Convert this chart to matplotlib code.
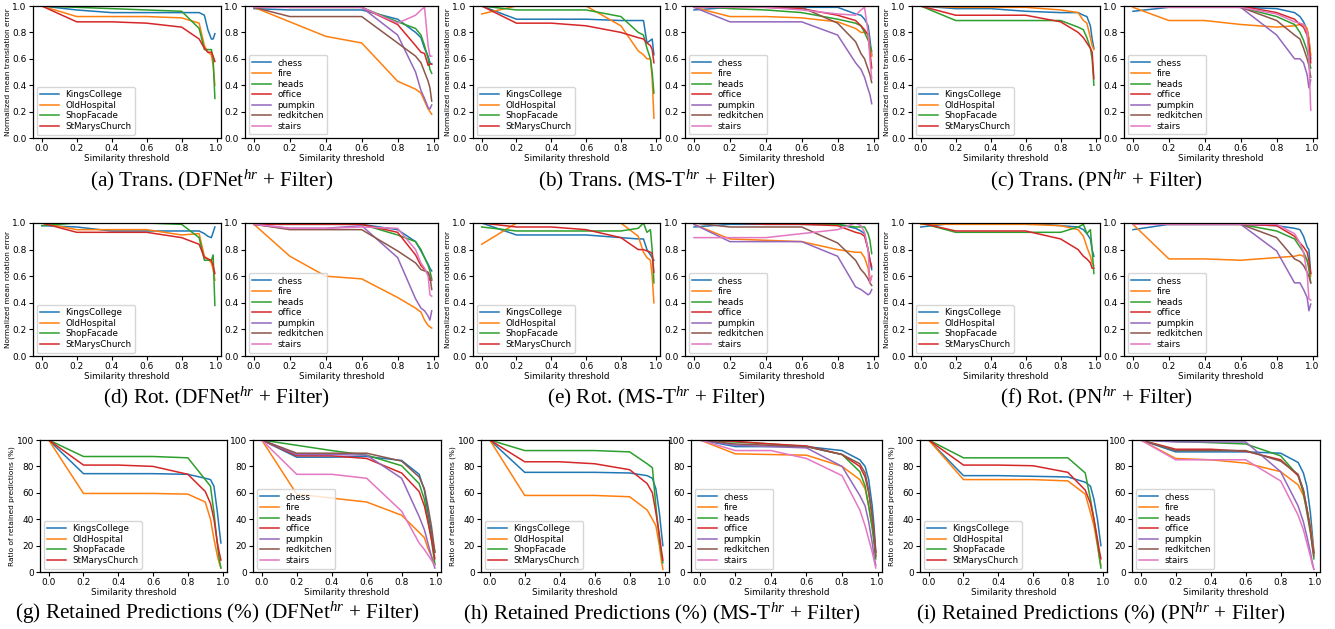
import numpy as np
import matplotlib
matplotlib.use("Agg")
import matplotlib.pyplot as plt

plt.rcParams['mathtext.fontset'] = 'custom'
plt.rcParams['mathtext.rm'] = 'Liberation Serif'
plt.rcParams['mathtext.it'] = 'Liberation Serif:italic'

# similarity thresholds
THR = [0.0, 0.2, 0.4, 0.6, 0.8, 0.9, 0.93, 0.95, 0.97, 0.98, 0.99]

CAMBRIDGE = ["KingsCollege", "OldHospital", "ShopFacade", "StMarysChurch"]
SEVEN = ["chess", "fire", "heads", "office", "pumpkin", "redkitchen", "stairs"]

# ---- translation error (normalized)
dfnet_trans_cam = [
    [1.0, 0.97, 0.95, 0.95, 0.95, 0.95, 0.93, 0.82, 0.75, 0.75, 0.79],
    [1.0, 0.92, 0.92, 0.92, 0.91, 0.87, 0.70, 0.65, 0.63, 0.55, 0.40],
    [1.0, 0.99, 0.98, 0.97, 0.96, 0.83, 0.67, 0.67, 0.67, 0.60, 0.30],
    [1.0, 0.88, 0.88, 0.87, 0.84, 0.75, 0.68, 0.65, 0.65, 0.62, 0.58],
]
dfnet_trans_7s = [
    [0.98, 0.97, 0.97, 0.97, 0.90, 0.80, 0.76, 0.68, 0.62, 0.57, 0.56],
    [0.99, 0.88, 0.77, 0.72, 0.43, 0.37, 0.34, 0.28, 0.22, 0.20, 0.18],
    [1.0, 0.99, 0.99, 0.99, 0.88, 0.83, 0.78, 0.70, 0.60, 0.52, 0.49],
    [1.0, 0.99, 0.99, 0.99, 0.86, 0.70, 0.65, 0.64, 0.55, 0.56, 0.56],
    [0.99, 0.99, 0.99, 0.99, 0.78, 0.50, 0.36, 0.30, 0.23, 0.22, 0.25],
    [0.99, 0.92, 0.92, 0.92, 0.72, 0.62, 0.57, 0.50, 0.43, 0.38, 0.28],
    [0.99, 0.99, 0.99, 0.99, 0.87, 0.93, 0.97, 0.99, 0.70, 0.62, 0.62],
]
mst_trans_cam = [
    [1.0, 0.90, 0.90, 0.90, 0.89, 0.89, 0.89, 0.72, 0.74, 0.75, 0.63],
    [0.94, 1.0, 1.0, 1.0, 0.85, 0.66, 0.63, 0.60, 0.60, 0.45, 0.15],
    [1.0, 0.97, 0.97, 0.97, 0.92, 0.80, 0.78, 0.68, 0.60, 0.50, 0.34],
    [1.0, 0.87, 0.87, 0.85, 0.80, 0.76, 0.75, 0.72, 0.70, 0.67, 0.57],
]
mst_trans_7s = [
    [0.97, 0.99, 0.99, 0.99, 0.99, 0.94, 0.93, 0.90, 0.85, 0.75, 0.63],
    [0.99, 0.92, 0.92, 0.91, 0.88, 0.83, 0.80, 0.80, 0.79, 0.70, 0.62],
    [1.0, 0.98, 0.97, 0.95, 0.90, 0.87, 0.85, 0.80, 0.74, 0.70, 0.66],
    [1.0, 1.0, 0.99, 0.98, 0.93, 0.89, 0.85, 0.82, 0.78, 0.65, 0.53],
    [0.99, 0.88, 0.88, 0.88, 0.78, 0.57, 0.52, 0.46, 0.37, 0.33, 0.26],
    [1.0, 1.0, 1.0, 0.99, 0.87, 0.73, 0.64, 0.60, 0.52, 0.48, 0.42],
    [0.99, 0.99, 0.99, 0.97, 0.94, 0.93, 0.97, 0.99, 0.80, 0.60, 0.45],
]
pn_trans_cam = [
    [1.0, 0.98, 0.98, 0.96, 0.95, 0.95, 0.93, 0.92, 0.85, 0.75, 0.68],
    [1.0, 0.99, 0.99, 0.99, 0.97, 0.95, 0.89, 0.87, 0.76, 0.70, 0.67],
    [1.0, 0.89, 0.89, 0.89, 0.89, 0.84, 0.82, 0.76, 0.68, 0.60, 0.40],
    [1.0, 0.93, 0.93, 0.93, 0.88, 0.80, 0.76, 0.72, 0.68, 0.65, 0.45],
]
pn_trans_7s = [
    [0.96, 0.99, 0.99, 0.99, 0.98, 0.95, 0.92, 0.88, 0.82, 0.75, 0.60],
    [0.99, 0.89, 0.89, 0.86, 0.84, 0.85, 0.86, 0.86, 0.83, 0.75, 0.63],
    [1.0, 1.0, 1.0, 0.99, 0.92, 0.86, 0.80, 0.74, 0.66, 0.60, 0.53],
    [1.0, 1.0, 1.0, 1.0, 0.95, 0.90, 0.86, 0.84, 0.78, 0.70, 0.57],
    [1.0, 1.0, 1.0, 0.99, 0.78, 0.60, 0.60, 0.57, 0.48, 0.38, 0.44],
    [1.0, 1.0, 1.0, 0.99, 0.89, 0.78, 0.75, 0.68, 0.60, 0.55, 0.46],
    [1.0, 0.99, 0.99, 0.99, 0.94, 0.88, 0.87, 0.86, 0.80, 0.60, 0.21],
]

# ---- rotation error (normalized)
dfnet_rot_cam = [
    [0.98, 0.97, 0.94, 0.94, 0.94, 0.94, 0.92, 0.90, 0.89, 0.93, 0.97],
    [1.0, 0.95, 0.95, 0.95, 0.91, 0.92, 0.75, 0.73, 0.70, 0.65, 0.57],
    [0.98, 1.0, 1.0, 1.0, 0.99, 0.89, 0.72, 0.72, 0.72, 0.76, 0.38],
    [1.0, 0.93, 0.93, 0.93, 0.89, 0.84, 0.74, 0.73, 0.72, 0.68, 0.62],
]
dfnet_rot_7s = [
    [0.99, 0.99, 0.99, 0.99, 0.95, 0.86, 0.79, 0.74, 0.69, 0.66, 0.64],
    [0.99, 0.75, 0.60, 0.58, 0.44, 0.36, 0.33, 0.27, 0.23, 0.22, 0.21],
    [1.0, 1.0, 1.0, 0.99, 0.91, 0.86, 0.80, 0.74, 0.68, 0.64, 0.58],
    [0.99, 0.99, 0.99, 0.99, 0.93, 0.76, 0.68, 0.65, 0.62, 0.57, 0.57],
    [0.99, 0.96, 0.96, 0.98, 0.74, 0.43, 0.36, 0.34, 0.30, 0.27, 0.34],
    [0.99, 0.95, 0.95, 0.95, 0.79, 0.70, 0.65, 0.64, 0.63, 0.60, 0.50],
    [0.99, 0.96, 0.96, 0.97, 0.96, 0.80, 0.70, 0.66, 0.60, 0.46, 0.45],
]
mst_rot_cam = [
    [1.0, 0.91, 0.91, 0.91, 0.89, 0.88, 0.88, 0.80, 0.76, 0.74, 0.72],
    [0.84, 1.0, 1.0, 1.0, 1.0, 0.90, 0.78, 0.74, 0.72, 0.60, 0.40],
    [0.97, 0.94, 0.94, 0.94, 0.94, 0.96, 1.0, 0.93, 0.95, 0.80, 0.55],
    [1.0, 0.97, 0.97, 0.95, 0.89, 0.80, 0.80, 0.79, 0.78, 0.77, 0.63],
]
mst_rot_7s = [
    [0.97, 0.99, 0.99, 0.99, 0.99, 0.96, 0.94, 0.92, 0.80, 0.72, 0.65],
    [0.99, 0.88, 0.87, 0.86, 0.80, 0.78, 0.78, 0.74, 0.66, 0.55, 0.60],
    [1.0, 1.0, 1.0, 0.99, 0.99, 0.97, 0.97, 0.97, 0.92, 0.87, 0.77],
    [1.0, 1.0, 0.99, 0.99, 0.98, 0.93, 0.92, 0.90, 0.80, 0.72, 0.67],
    [0.99, 0.86, 0.86, 0.86, 0.75, 0.52, 0.50, 0.48, 0.46, 0.47, 0.50],
    [1.0, 0.97, 0.97, 0.97, 0.85, 0.72, 0.65, 0.62, 0.58, 0.55, 0.53],
    [0.89, 0.89, 0.89, 0.92, 0.95, 1.0, 0.98, 0.93, 0.80, 0.55, 0.60],
]
pn_rot_cam = [
    [0.97, 1.0, 1.0, 1.0, 0.98, 0.97, 0.95, 0.92, 0.88, 0.80, 0.75],
    [0.99, 0.99, 0.99, 0.99, 0.98, 0.95, 0.90, 0.82, 0.75, 0.70, 0.68],
    [1.0, 0.93, 0.93, 0.93, 0.93, 0.97, 0.99, 0.92, 0.95, 0.80, 0.62],
    [1.0, 0.94, 0.94, 0.94, 0.88, 0.80, 0.75, 0.73, 0.70, 0.66, 0.66],
]
pn_rot_7s = [
    [0.95, 0.99, 0.99, 0.99, 0.98, 0.96, 0.95, 0.90, 0.82, 0.80, 0.62],
    [0.99, 0.73, 0.73, 0.72, 0.74, 0.75, 0.76, 0.75, 0.72, 0.68, 0.60],
    [1.0, 0.99, 0.99, 0.99, 0.94, 0.88, 0.82, 0.78, 0.72, 0.65, 0.55],
    [1.0, 0.99, 0.99, 0.99, 0.98, 0.90, 0.85, 0.82, 0.78, 0.72, 0.62],
    [1.0, 0.99, 0.99, 0.99, 0.79, 0.55, 0.55, 0.50, 0.44, 0.34, 0.39],
    [1.0, 0.99, 0.99, 0.99, 0.89, 0.73, 0.71, 0.68, 0.63, 0.60, 0.55],
    [0.99, 0.99, 0.99, 0.99, 0.99, 0.92, 0.85, 0.78, 0.62, 0.43, 0.42],
]

# ---- retained predictions (%)
dfnet_keep_cam = [
    [100, 74.5, 74.5, 74.5, 74, 71, 70, 65, 45, 33, 22],
    [100, 59.5, 59.5, 59.5, 59, 53, 40, 25, 12, 7, 3],
    [100, 87.5, 87.5, 87.5, 86.5, 70, 65, 45, 20, 10, 3],
    [100, 81, 81, 80, 74, 61, 52, 40, 22, 15, 9],
]
dfnet_keep_7s = [
    [100, 87, 87, 87.5, 84.5, 74, 62, 45, 30, 22, 15],
    [100, 59, 56, 53, 43, 30, 26, 18, 12, 9, 6],
    [100, 96, 92, 88.5, 80.5, 67, 55, 40, 25, 15, 6],
    [100, 88, 88, 86, 75, 61, 50, 38, 25, 18, 10],
    [100, 89, 89, 88.5, 71, 42, 32, 22, 12, 7, 3],
    [100, 90, 90, 90, 84, 72, 63, 50, 35, 25, 15],
    [100, 74, 74, 71, 46, 22, 17, 13, 9, 7, 5],
]
mst_keep_cam = [
    [100, 75.5, 75.5, 75.5, 75, 73, 71, 63, 45, 32, 20],
    [100, 58, 58, 58, 57, 47, 40, 35, 20, 10, 2],
    [100, 92, 92, 92, 91, 82, 79, 50, 25, 15, 7],
    [100, 83.5, 83.5, 82, 77.5, 67, 60, 45, 28, 18, 9],
]
mst_keep_7s = [
    [100, 95, 95, 95, 92, 85, 80, 70, 50, 35, 15],
    [100, 89.5, 89, 88.5, 80, 70, 63, 50, 35, 25, 12],
    [100, 98.5, 97, 95, 89, 76, 65, 50, 33, 22, 10],
    [100, 99, 97, 95.5, 89, 80, 72, 60, 42, 30, 15],
    [100, 96, 95, 94, 80, 58, 50, 38, 22, 12, 5],
    [100, 97, 96, 95, 89, 82, 75, 62, 42, 28, 12],
    [100, 92, 92, 86, 73, 47, 35, 25, 15, 9, 3],
]
pn_keep_cam = [
    [100, 73, 73, 72.5, 72, 68, 65, 55, 40, 30, 20],
    [100, 70, 70, 70, 69, 59, 45, 35, 20, 12, 5],
    [100, 86.5, 86.5, 86.5, 86.5, 75, 55, 40, 22, 12, 3],
    [100, 81, 81, 80.5, 75.5, 62, 52, 40, 25, 17, 10],
]
pn_keep_7s = [
    [100, 91, 91, 91, 90, 83, 75, 65, 45, 30, 15],
    [100, 86, 85, 82.5, 76, 66, 58, 48, 35, 25, 15],
    [100, 99, 98, 97, 88, 73, 60, 45, 30, 20, 10],
    [100, 93, 93, 91.5, 85, 73, 62, 48, 32, 22, 14],
    [100, 98.5, 98.5, 98.5, 76, 50, 38, 27, 15, 8, 2],
    [100, 92, 92, 92, 84, 74, 62, 48, 32, 22, 12],
    [100, 85, 85, 85, 69, 43, 32, 22, 12, 6, 2],
]

captions = [
    r"(a) Trans. (DFNet$^{hr}$ + Filter)",
    r"(b) Trans. (MS-T$^{hr}$ + Filter)",
    r"(c) Trans. (PN$^{hr}$ + Filter)",
    r"(d) Rot. (DFNet$^{hr}$ + Filter)",
    r"(e) Rot. (MS-T$^{hr}$ + Filter)",
    r"(f) Rot. (PN$^{hr}$ + Filter)",
    r"(g) Retained Predictions (%) (DFNet$^{hr}$ + Filter)",
    r"(h) Retained Predictions (%) (MS-T$^{hr}$ + Filter)",
    r"(i) Retained Predictions (%) (PN$^{hr}$ + Filter)",
]

W, H = 1335, 629
fig = plt.figure(figsize=(W / 100, H / 100), dpi=100)


def add_box(l, t, r, b):
    return fig.add_axes([l / W, 1 - b / H, (r - l) / W, (b - t) / H])


def draw_panel(ax, series, names, ymax, ylabel=None):
    colours = plt.rcParams['axes.prop_cycle'].by_key()['color']
    for i, (vals, name) in enumerate(zip(series, names)):
        ax.plot(THR, vals, color=colours[i], lw=1.1, label=name)
    ax.set_xlim(-0.05, 1.025)
    ax.set_ylim(0, ymax)
    ax.set_xticks([0.0, 0.2, 0.4, 0.6, 0.8, 1.0])
    if ymax == 1:
        ax.set_yticks([0.0, 0.2, 0.4, 0.6, 0.8, 1.0])
        ax.set_yticklabels(["0.0", "0.2", "0.4", "0.6", "0.8", "1.0"])
    else:
        ax.set_yticks([0, 20, 40, 60, 80, 100])
    ax.set_xticklabels(["0.0", "0.2", "0.4", "0.6", "0.8", "1.0"])
    ax.tick_params(labelsize=6.5, length=3, width=0.8, pad=1.5)
    ax.set_xlabel("Similarity threshold", fontsize=6.3, labelpad=0.5)
    if ylabel:
        ax.set_ylabel(ylabel, fontsize=5.3, labelpad=1)
    for s in ax.spines.values():
        s.set_linewidth(0.9)
    ax.legend(loc="lower left", fontsize=6.3, handlelength=2.2,
              labelspacing=0.18, borderpad=0.4, borderaxespad=0.4,
              handletextpad=0.7)


# pixel boxes: (left, right) pairs per group, rows have (top, bottom)
rows = [(6, 138), (223, 356), (440, 572)]
cols_top = [((33, 221), (245, 438)), ((473, 660), (685, 878)), ((912, 1100), (1124, 1317))]
cols_bot = [((40, 227), (253, 441)), ((481, 669), (691, 882)), ((920, 1107), (1132, 1320))]

panels = [
    [(dfnet_trans_cam, dfnet_trans_7s), (mst_trans_cam, mst_trans_7s), (pn_trans_cam, pn_trans_7s)],
    [(dfnet_rot_cam, dfnet_rot_7s), (mst_rot_cam, mst_rot_7s), (pn_rot_cam, pn_rot_7s)],
    [(dfnet_keep_cam, dfnet_keep_7s), (mst_keep_cam, mst_keep_7s), (pn_keep_cam, pn_keep_7s)],
]
ylabels = ["Normalized mean translation error", "Normalized mean rotation error",
           "Ratio of retained predictions (%)"]
ymaxes = [1, 1, 100]
cap_x = [[212, 657, 1096], [217, 656, 1096], [217, 662, 1101]]
cap_y = [180, 397, 613]

for r in range(3):
    top, bot = rows[r]
    cols = cols_bot if r == 2 else cols_top
    for g in range(3):
        (l1, r1), (l2, r2) = cols[g]
        cam, seven = panels[r][g]
        ax1 = add_box(l1, top, r1, bot)
        draw_panel(ax1, cam, CAMBRIDGE, ymaxes[r], ylabels[r])
        ax2 = add_box(l2, top, r2, bot)
        draw_panel(ax2, seven, SEVEN, ymaxes[r])
        fig.text(cap_x[r][g] / W, 1 - cap_y[r] / H, captions[r * 3 + g],
                 ha="center", va="center", fontsize=15.3,
                 family="Liberation Serif")

fig.savefig("out.png", dpi=100)
